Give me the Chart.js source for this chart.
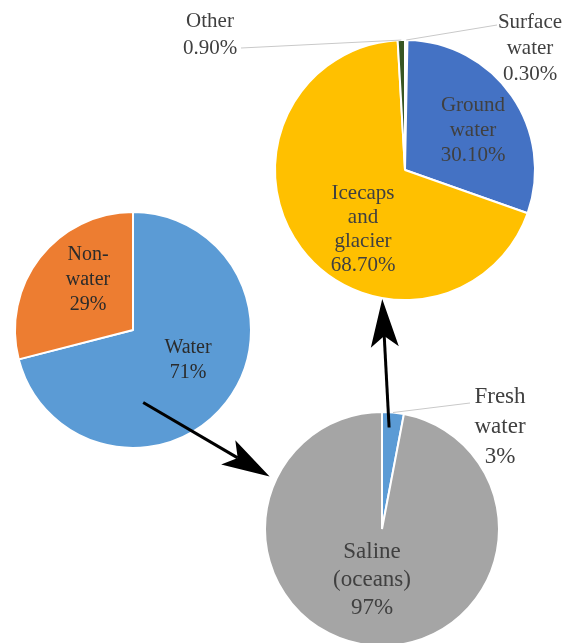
<!DOCTYPE html>
<html>
<head>
<meta charset="utf-8">
<script src="https://cdn.jsdelivr.net/npm/chart.js@4.4.0/dist/chart.umd.min.js"></script>
<style>
  html, body { margin: 0; padding: 0; background: #fff; overflow: hidden; width: 562px; height: 643px; }
  canvas { position: absolute; }
  #arrows { left: 0; top: 0; pointer-events: none; }
</style>
</head>
<body>
<canvas id="earth" width="270" height="280" style="left:0;top:190px"></canvas>
<canvas id="fresh" width="402" height="310" style="left:160px;top:0"></canvas>
<canvas id="water" width="322" height="270" style="left:240px;top:380px"></canvas>
<canvas id="arrows" width="562" height="643"></canvas>
<script>
// Earth's surface
const earthLabels = [['Water'], ['Non-', 'water']];
const earthValues = [71, 29];
const earthColors = ['#5b9bd5', '#ed7d31'];

// All water on Earth
const waterLabels = [['Fresh', 'water'], ['Saline', '(oceans)']];
const waterValues = [3, 97];
const waterColors = ['#5b9bd5', '#a5a5a5'];

// Fresh water breakdown
const freshLabels = [['Surface', 'water'], ['Ground', 'water'], ['Icecaps', 'and', 'glacier'], ['Other']];
const freshValues = [0.3, 30.1, 68.7, 0.9];
const freshColors = ['#eef1f5', '#4472c4', '#ffc000', '#375623'];

const FONT = '"Liberation Serif", "Times New Roman", serif';

const sliceLabels = {
  id: 'sliceLabels',
  afterDraw(chart, args, opts) {
    const ctx = chart.ctx;
    const meta = chart.getDatasetMeta(0);
    const values = chart.data.datasets[0].data;
    ctx.save();
    meta.data.forEach((arc, i) => {
      const p = opts.place[i];
      const a = arc.getProps(['x', 'y', 'startAngle', 'endAngle', 'outerRadius'], true);
      if (p.leader) {
        const mid = (a.startAngle + a.endAngle) / 2;
        ctx.strokeStyle = '#c9c9c9';
        ctx.lineWidth = 1;
        ctx.beginPath();
        ctx.moveTo(a.x + p.leader[0], a.y + p.leader[1]);
        ctx.lineTo(a.x + Math.cos(mid) * a.outerRadius, a.y + Math.sin(mid) * a.outerRadius);
        ctx.stroke();
      }
      const lines = chart.data.labels[i].concat(values[i].toFixed(opts.decimals) + '%');
      const lh = p.lineHeight || opts.lineHeight;
      ctx.font = opts.size + 'px ' + FONT;
      ctx.fillStyle = opts.color;
      ctx.textAlign = 'center';
      ctx.textBaseline = 'middle';
      lines.forEach((s, k) => {
        ctx.fillText(s, a.x + p.dx, a.y + p.dy + (k - (lines.length - 1) / 2) * lh);
      });
    });
    ctx.restore();
  }
};

function pie(id, labels, values, colors, pad, labelOpts) {
  return new Chart(document.getElementById(id), {
    type: 'pie',
    data: {
      labels,
      datasets: [{
        data: values,
        backgroundColor: colors,
        borderColor: '#ffffff',
        borderWidth: 2
      }]
    },
    options: {
      responsive: false,
      animation: false,
      layout: { padding: pad },
      plugins: {
        legend: { display: false },
        tooltip: { enabled: false },
        sliceLabels: labelOpts
      }
    },
    plugins: [sliceLabels]
  });
}

// arrows linking the pies
function pieGeom(chart) {
  const arc = chart.getDatasetMeta(0).data[0];
  return { x: chart.canvas.offsetLeft + arc.x, y: chart.canvas.offsetTop + arc.y, r: arc.outerRadius };
}
function onCircle(g, deg, dist) {
  const t = deg * Math.PI / 180;
  return { x: g.x + Math.sin(t) * dist, y: g.y - Math.cos(t) * dist };
}
function drawArrow(ctx, from, to) {
  const len = 48, half = 14, notch = 11;
  const dx = to.x - from.x, dy = to.y - from.y;
  const d = Math.hypot(dx, dy);
  const ux = dx / d, uy = dy / d, nx = -uy, ny = ux;
  ctx.strokeStyle = '#000';
  ctx.fillStyle = '#000';
  ctx.lineWidth = 3;
  ctx.beginPath();
  ctx.moveTo(from.x, from.y);
  ctx.lineTo(to.x - ux * (len - notch), to.y - uy * (len - notch));
  ctx.stroke();
  ctx.beginPath();
  ctx.moveTo(to.x, to.y);
  ctx.lineTo(to.x - ux * len + nx * half, to.y - uy * len + ny * half);
  ctx.lineTo(to.x - ux * (len - notch), to.y - uy * (len - notch));
  ctx.lineTo(to.x - ux * len - nx * half, to.y - uy * len - ny * half);
  ctx.closePath();
  ctx.fill();
}

const earthChart = pie('earth', earthLabels, earthValues, earthColors,
  { left: 14, top: 21, right: 18, bottom: 21 },
  { size: 20, lineHeight: 25, decimals: 0, color: '#2b2b2b',
    place: [{ dx: 55, dy: 30 }, { dx: -45, dy: -50 }] });

const freshChart = pie('fresh', freshLabels, freshValues, freshColors,
  { left: 114, top: 39, right: 26, bottom: 9 },
  { size: 21, lineHeight: 25, decimals: 2, color: '#404040',
    place: [
      { dx: 125, dy: -122, lineHeight: 26, leader: [92, -145] },
      { dx: 68, dy: -40 },
      { dx: -42, dy: 59, lineHeight: 24 },
      { dx: -195, dy: -135, lineHeight: 27, leader: [-164, -122] }
    ] });

const waterChart = pie('water', waterLabels, waterValues, waterColors,
  { left: 24, top: 31, right: 62, bottom: 3 },
  { size: 23, lineHeight: 28, decimals: 0, color: '#404040',
    place: [
      { dx: 118, dy: -102, lineHeight: 30, leader: [88, -126] },
      { dx: -10, dy: 51 }
    ] });

const g1 = pieGeom(earthChart), g2 = pieGeom(freshChart), g3 = pieGeom(waterChart);
const actx = document.getElementById('arrows').getContext('2d');
drawArrow(actx, onCircle(g1, 172, g1.r * 0.62), onCircle(g3, 295, g3.r + 7));
drawArrow(actx, onCircle(g3, 4, g3.r * 0.87), onCircle(g2, 190, g2.r + 1));
</script>
</body>
</html>
